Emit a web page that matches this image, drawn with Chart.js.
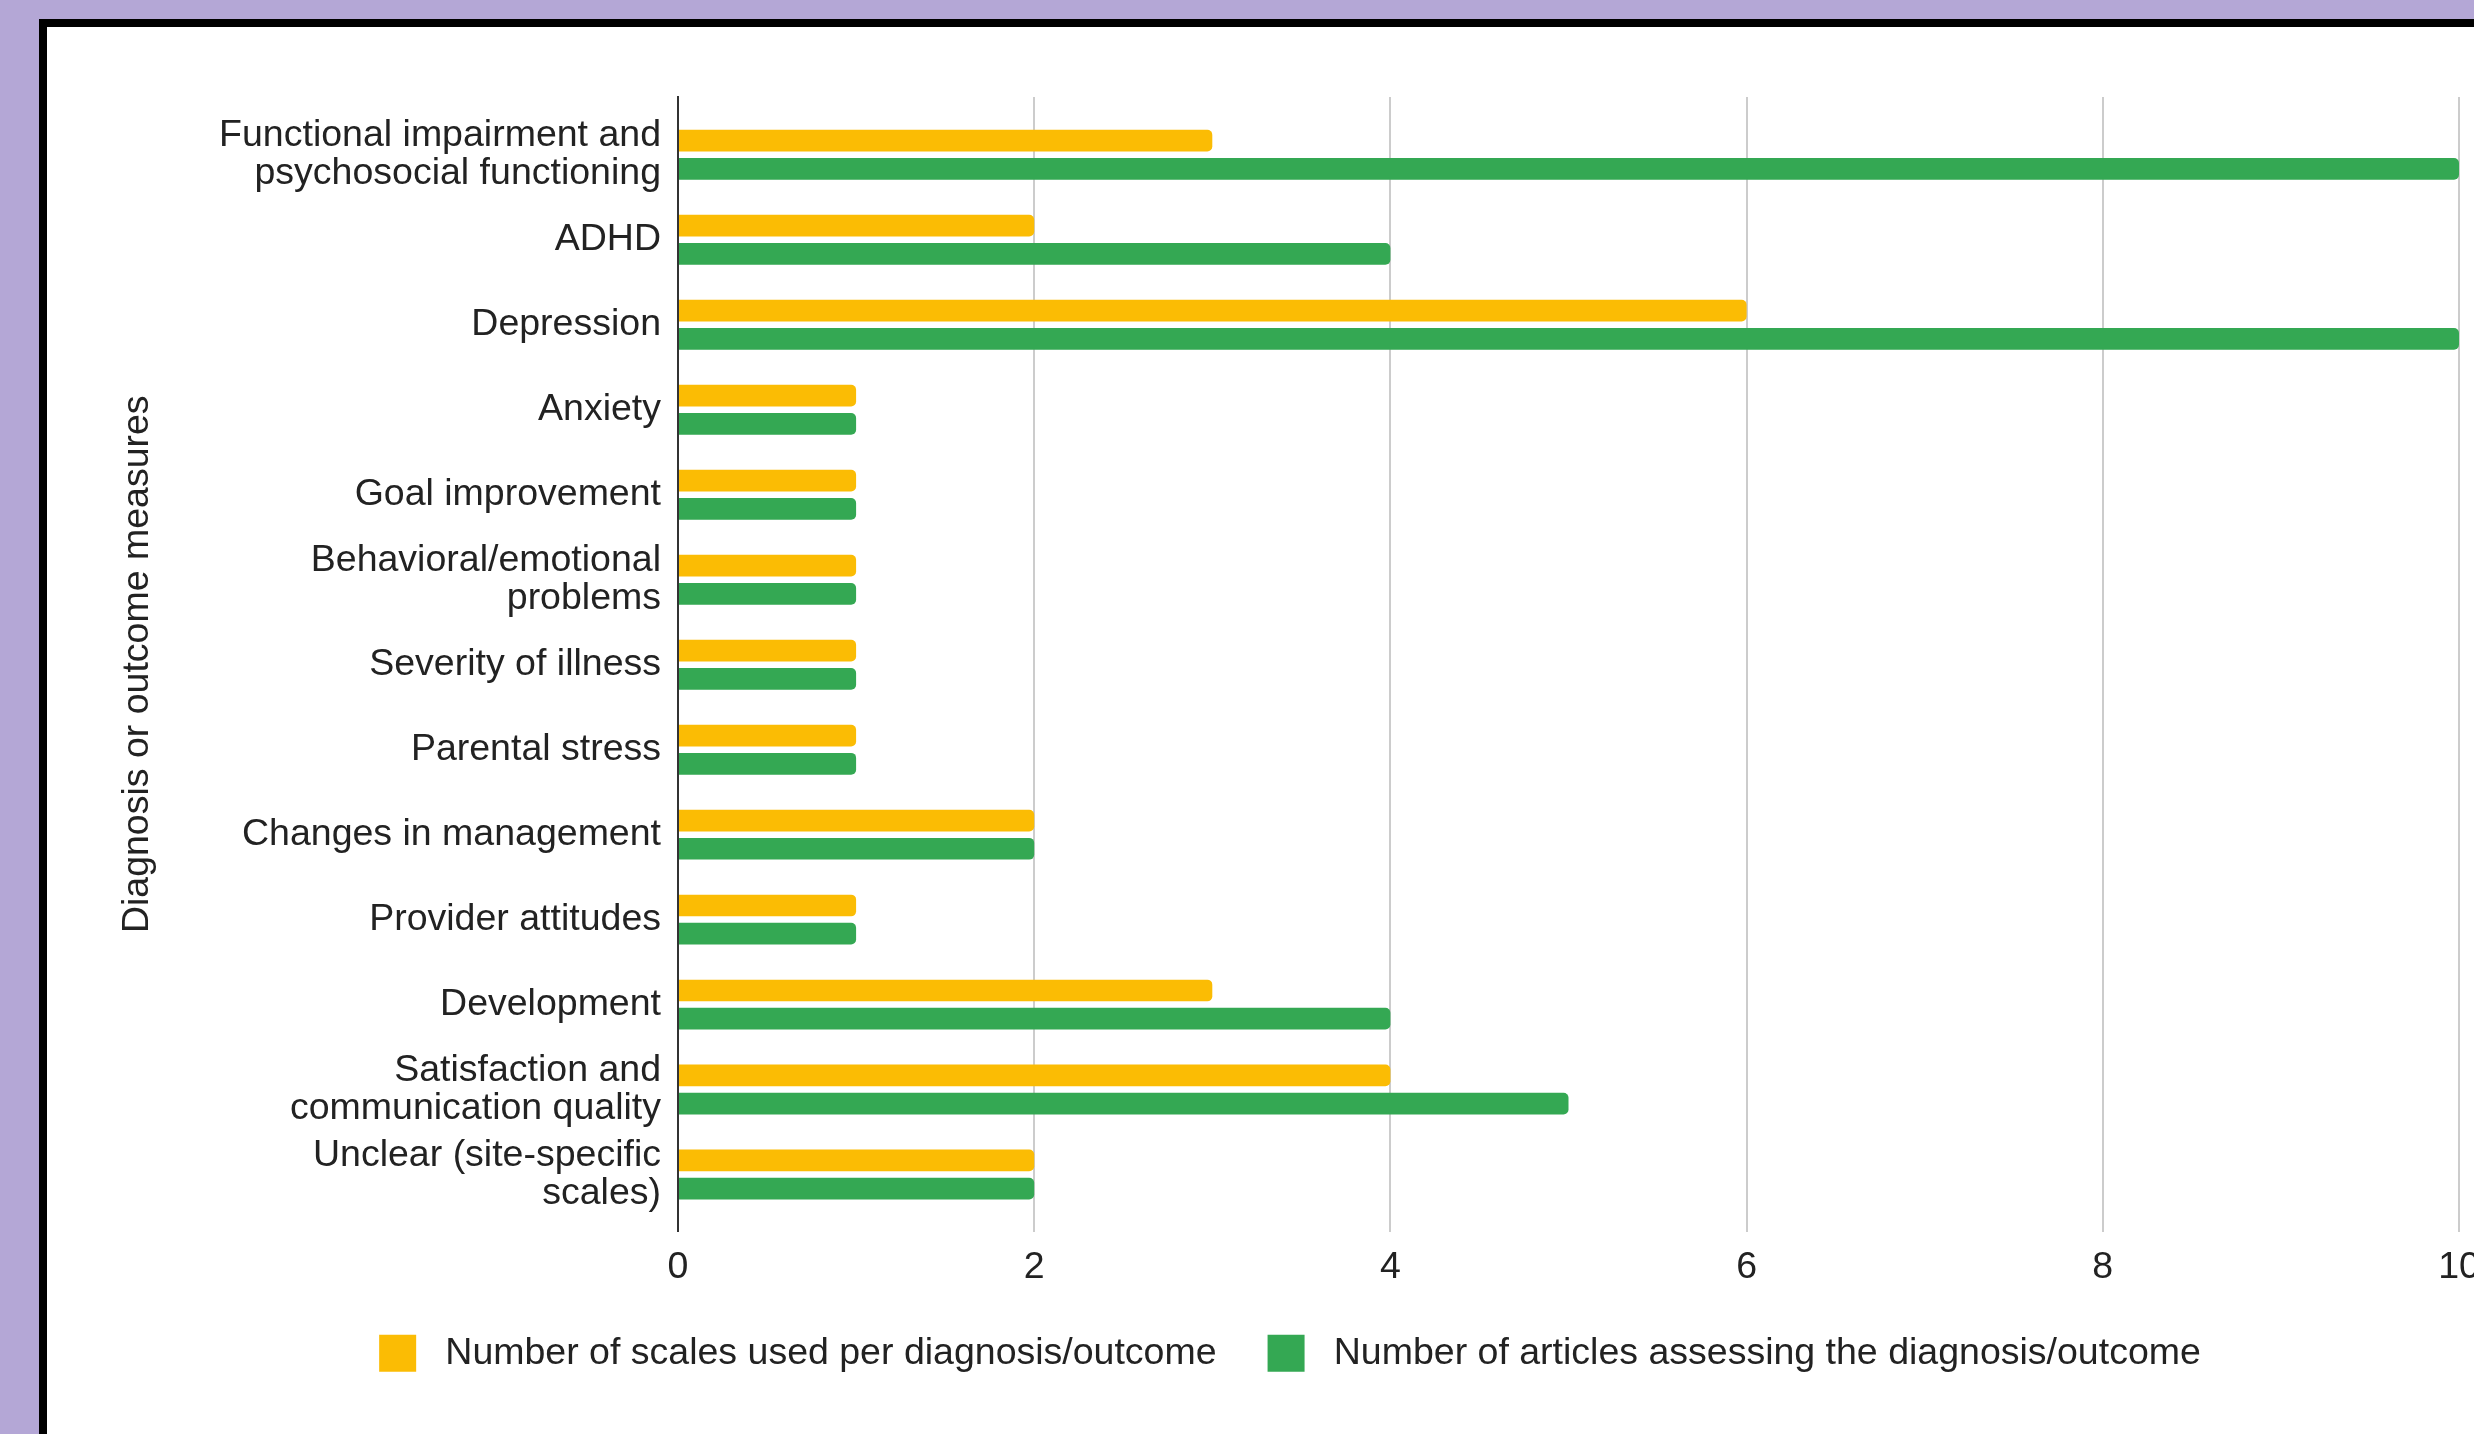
<!DOCTYPE html>
<html>
<head>
<meta charset="utf-8">
<title>Diagnosis or outcome measures</title>
<script src="https://cdn.jsdelivr.net/npm/chart.js@4.4.1/dist/chart.umd.min.js"></script>
<style>
  html, body { margin:0; padding:0; width:2474px; height:1434px; overflow:hidden; background:#b4a7d6; }
  .frame { position:absolute; left:39px; top:19px; width:3000px; height:3000px; border:8px solid #000; background:#fff; }
  #chart { position:absolute; left:0; top:0; }
</style>
</head>
<body>
<div class="frame"></div>
<canvas id="chart" width="2540" height="1434"></canvas>
<script>
const categories = [
  ['Functional impairment and', 'psychosocial functioning'],
  'ADHD',
  'Depression',
  'Anxiety',
  'Goal improvement',
  ['Behavioral/emotional', 'problems'],
  'Severity of illness',
  'Parental stress',
  'Changes in management',
  'Provider attitudes',
  'Development',
  ['Satisfaction and', 'communication quality'],
  ['Unclear (site-specific', 'scales)']
];
const scalesUsed     = [3, 2, 6, 1, 1, 1, 1, 1, 2, 1, 3, 4, 2];
const articlesCount  = [10, 4, 10, 1, 1, 1, 1, 1, 2, 1, 4, 5, 2];
const xTicks = [0, 2, 4, 6, 8, 10];

const FONT = '"Liberation Sans", Arial, Helvetica, sans-serif';
const TXT = '#222222';

// category index on a linear axis so the grid can run past the first/last band
const toPoints = vals => vals.map((v, i) => ({ x: v, y: i }));

new Chart(document.getElementById('chart'), {
  type: 'bar',
  data: {
    datasets: [
      { label: 'Number of scales used per diagnosis/outcome', data: toPoints(scalesUsed),
        backgroundColor: '#fbbc04', borderRadius: 5 },
      { label: 'Number of articles assessing the diagnosis/outcome', data: toPoints(articlesCount),
        backgroundColor: '#34a853', borderRadius: 5 }
    ]
  },
  options: {
    indexAxis: 'y',
    responsive: false,
    devicePixelRatio: 1,
    animation: false,
    categoryPercentage: 0.664,
    barPercentage: 0.77,
    layout: { padding: { left: 121, top: 97, right: 81, bottom: 52 } },
    plugins: {
      tooltip: { enabled: false },
      legend: {
        position: 'bottom',
        labels: {
          font: { family: FONT, size: 37.5 },
          color: TXT,
          boxWidth: 37,
          boxHeight: 37,
          padding: 51,
          generateLabels(chart) {
            return Chart.defaults.plugins.legend.labels.generateLabels(chart)
              .map(l => Object.assign(l, { text: ' ' + l.text, lineWidth: 0 }));
          }
        }
      }
    },
    scales: {
      x: {
        type: 'linear',
        min: 0,
        max: 10,
        afterBuildTicks(scale) { scale.ticks = xTicks.map(v => ({ value: v })); },
        afterFit(scale) { scale.height = 52; },
        grid: { color: '#cccccc', lineWidth: 2, drawTicks: false },
        border: { display: false },
        ticks: { font: { family: FONT, size: 37.5 }, color: TXT, padding: 14 }
      },
      y: {
        type: 'linear',
        reverse: true,
        offset: false,
        min: -0.68,
        max: 12.67,
        afterBuildTicks(scale) { scale.ticks = categories.map((c, i) => ({ value: i })); },
        afterFit(scale) { scale.width = 557; },
        grid: { display: false, offset: false },
        border: { display: true, color: '#333333', width: 2, z: 1 },
        ticks: {
          autoSkip: false,
          padding: 9,
          font: { family: FONT, size: 37.5, lineHeight: 1.0 },
          color: TXT,
          callback: v => categories[v]
        },
        title: {
          display: true,
          text: 'Diagnosis or outcome measures',
          font: { family: FONT, size: 37.5 },
          color: TXT,
          padding: { top: -6, bottom: 0 }
        }
      }
    }
  }
});
</script>
</body>
</html>
